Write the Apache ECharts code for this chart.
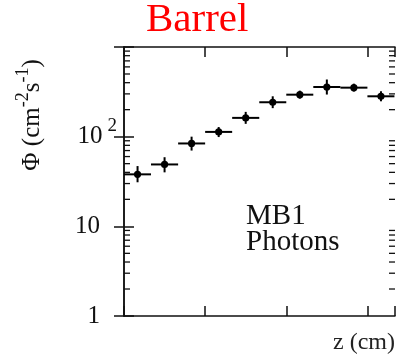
<!DOCTYPE html>
<html>
<head>
<meta charset="utf-8">
<script src="https://cdn.jsdelivr.net/npm/echarts@6/dist/echarts.min.js"></script>
<style>html,body{margin:0;padding:0;background:#fff}#c{width:398px;height:356px}</style>
</head>
<body>
<div id="c"></div>
<script>
// ---- data ----
const zCenter = [16.7, 50, 83.3, 116.7, 150, 183.3, 216.7, 250, 283.3, 316.7];
const zLow    = [0, 33.3, 66.7, 100, 133.3, 166.7, 200, 233.3, 266.7, 300];
const zHigh   = [33.3, 66.7, 100, 133.3, 166.7, 200, 233.3, 266.7, 300, 333.3];
const flux     = [38, 49, 84, 113, 162, 242, 294, 358, 352, 282];
const fluxLow  = [31, 40, 70, 99, 139, 208, 265, 295, 318, 248];
const fluxHigh = [47, 59, 100, 128, 189, 282, 326, 434, 390, 321];
const yMajorLabels = {1: '{m|1}', 10: '{m|10}', 100: '{n|10}{s|2}', 1000: ''};
const minorTickValues = [2,3,4,5,6,7,8,9,20,30,40,50,60,70,80,90,200,300,400,500,600,700,800,900];
const zMin = 0, zMax = 334;

const chart = echarts.init(document.getElementById('c'));
const FONT = '"Liberation Serif", "Times New Roman", serif';
const frameLine = {show: true, lineStyle: {color: '#111', width: 1.5}};
const tickStyle = {inside: true, length: 10, lineStyle: {color: '#111', width: 1.5}};

const barData = zCenter.map((z, i) => [z, flux[i], zLow[i], zHigh[i], fluxLow[i], fluxHigh[i]]);
const minorData = minorTickValues.map(v => [zMax / 2, v]);

chart.setOption({
  animation: false,
  title: {text: 'Barrel', left: 146, top: 0, padding: 0,
          textStyle: {color: '#ff0000', fontSize: 41, fontFamily: FONT, fontWeight: 'normal'}},
  grid: {left: 124, right: 2, top: 47, bottom: 40},
  xAxis: [
    {type: 'value', position: 'bottom', min: zMin, max: zMax, interval: 100,
     name: 'z (cm)', nameLocation: 'end', nameGap: 0,
     nameTextStyle: {fontSize: 24, fontFamily: FONT, color: '#222', align: 'right', verticalAlign: 'top', padding: [15, 0, 0, 0]},
     axisLine: frameLine, axisTick: tickStyle, axisLabel: {show: false}, splitLine: {show: false}},
    {type: 'value', position: 'top', min: zMin, max: zMax, interval: 100,
     axisLine: frameLine, axisTick: tickStyle, axisLabel: {show: false}, splitLine: {show: false}}
  ],
  yAxis: [
    {type: 'log', logBase: 10, min: 1, max: 1000, position: 'left',
     axisLine: frameLine, axisTick: tickStyle, splitLine: {show: false},
     axisLabel: {
       margin: 7, align: 'right', color: '#111', fontFamily: FONT,
       formatter: v => yMajorLabels[Math.round(v)] || '',
       rich: {
         m: {fontSize: 25, fontFamily: FONT, color: '#111', padding: [0, 17, 0, 0]},
         n: {fontSize: 25, fontFamily: FONT, color: '#111', lineHeight: 40},
         s: {fontSize: 19, fontFamily: FONT, color: '#111', lineHeight: 19, verticalAlign: 'top', padding: [0, 0, 0, 5]}
       }
     }},
    {type: 'log', logBase: 10, min: 1, max: 1000, position: 'right',
     axisLine: frameLine, axisTick: tickStyle, splitLine: {show: false}, axisLabel: {show: false}}
  ],
  series: [
    {
      type: 'custom', name: 'minorTicks', silent: true, z: 5,
      data: minorData, encode: {x: 0, y: 1},
      renderItem: (params, api) => {
        const v = api.value(1);
        const l = api.coord([zMin, v]);
        const r = api.coord([zMax, v]);
        return {type: 'group', children: [
          {type: 'line', shape: {x1: l[0], y1: l[1], x2: l[0] + 6, y2: l[1]}, style: {stroke: '#111', lineWidth: 1.3}},
          {type: 'line', shape: {x1: r[0], y1: r[1], x2: r[0] - 6, y2: r[1]}, style: {stroke: '#111', lineWidth: 1.3}}
        ]};
      }
    },
    {
      type: 'custom', name: 'flux', silent: true, z: 6,
      data: barData, encode: {x: 0, y: 1},
      renderItem: (params, api) => {
        const c = api.coord([api.value(0), api.value(1)]);
        const a = api.coord([api.value(2), api.value(1)]);
        const b = api.coord([api.value(3), api.value(1)]);
        const lo = api.coord([api.value(0), api.value(4)]);
        const hi = api.coord([api.value(0), api.value(5)]);
        const st = {stroke: '#000', lineWidth: 2};
        return {type: 'group', children: [
          {type: 'line', shape: {x1: a[0], y1: a[1], x2: b[0], y2: b[1]}, style: st},
          {type: 'line', shape: {x1: lo[0], y1: lo[1], x2: hi[0], y2: hi[1]}, style: st},
          {type: 'circle', shape: {cx: c[0], cy: c[1], r: 3.6}, style: {fill: '#000'}}
        ]};
      }
    }
  ],
  graphic: [
    {type: 'text', x: 246, y: 201.5, style: {text: 'MB1', fill: '#111', fontSize: 29, fontFamily: FONT}},
    {type: 'text', x: 246, y: 228, style: {text: 'Photons', fill: '#111', fontSize: 29, fontFamily: FONT}},
    {type: 'text', x: 32, y: 115, rotation: Math.PI / 2,
     style: {text: '{n|Φ (cm}{s|-2}{n|s}{s|-1}{n|)}', align: 'center', verticalAlign: 'middle',
       rich: {
         n: {fontSize: 25, fontFamily: FONT, fill: '#111', lineHeight: 36},
         s: {fontSize: 18, fontFamily: FONT, fill: '#111', lineHeight: 18, verticalAlign: 'top'}
       }}}
  ]
});
</script>
</body>
</html>
